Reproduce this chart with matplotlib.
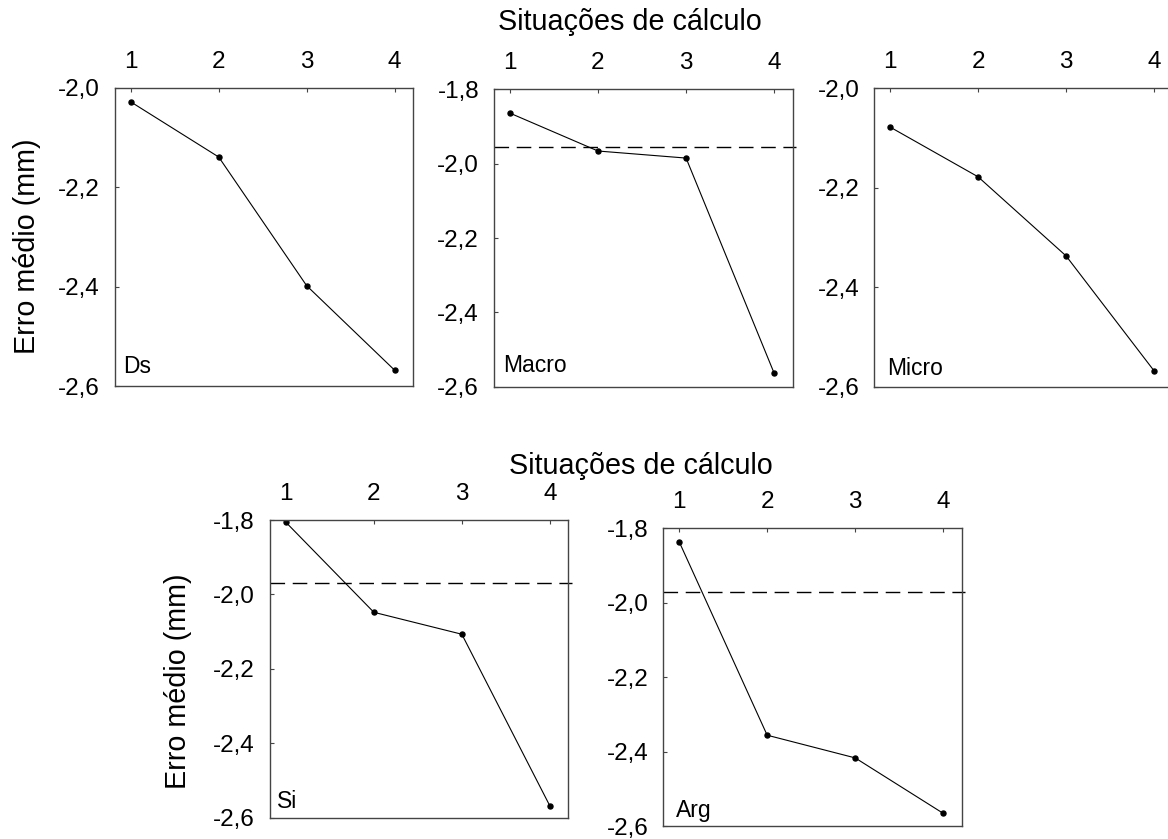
import numpy as np
import matplotlib
matplotlib.use("Agg")
import matplotlib.pyplot as plt
from matplotlib.ticker import FuncFormatter

plt.rcParams['font.family'] = ['Liberation Sans', 'DejaVu Sans']
plt.rcParams['axes.unicode_minus'] = False

# values
situacoes = [1, 2, 3, 4]
ds = [-2.028, -2.139, -2.398, -2.568]
macro = [-1.864, -1.966, -1.985, -2.564]
micro = [-2.078, -2.178, -2.337, -2.568]
si = [-1.806, -2.048, -2.107, -2.568]
arg = [-1.836, -2.356, -2.417, -2.566]

nomes = ["Ds", "Macro", "Micro", "Si", "Arg"]
series = [ds, macro, micro, si, arg]
referencia = [None, -1.954, None, -1.968, -1.971]
yticks_top = [-2.0, -2.2, -2.4, -2.6]
yticks_full = [-1.8, -2.0, -2.2, -2.4, -2.6]

W, H = 1168, 839
fig = plt.figure(figsize=(W / 100, H / 100), dpi=100)

# pixel boxes (left, top, right, bottom) and label offsets (px)
boxes = [(115, 88, 413, 386), (494, 89.3, 792.7, 386.7), (874.3, 88.3, 1172.5, 386.7),
         (270, 520, 568.3, 817.7), (663.3, 528.3, 961.7, 826)]
lab_off = [(7.7, 12.7), (8.7, 15), (12.4, 11.7), (6.7, 9.4), (13, 9.3)]

fmt = FuncFormatter(lambda v, p: f"{v:.1f}".replace('.', ','))

for i, (nome, vals) in enumerate(zip(nomes, series)):
    l, t, r, b = boxes[i]
    ax = fig.add_axes([l / W, 1 - b / H, (r - l) / W, (b - t) / H])
    ax.plot(situacoes, vals, color='black', lw=0.8, marker='o', ms=3.6)
    if referencia[i] is not None:
        ax.axhline(referencia[i], xmin=0, xmax=1.012, color='black', lw=1.0,
                   dashes=(10.5, 5.5), clip_on=False)
    ax.set_xlim(0.82, 4.21)
    yt = yticks_full if vals[0] > -1.95 else yticks_top
    ax.set_ylim(yt[-1], yt[0])
    ax.set_yticks(yt)
    ax.set_xticks(situacoes)
    ax.yaxis.set_major_formatter(fmt)
    ax.xaxis.tick_top()
    ax.tick_params(direction='in', length=3, width=0.8, pad=10.8,
                   labelsize=17.5, color='#444444')
    for sp in ax.spines.values():
        sp.set_color('#444444')
        sp.set_linewidth(1.0)
    ox, oy = lab_off[i]
    ax.text(ox / (r - l), oy / (b - t), nome, transform=ax.transAxes,
            fontsize=16.5, va='baseline', ha='left')

fig.text(630 / W, 1 - 30 / H, "Situações de cálculo", fontsize=20.7,
         ha='center', va='baseline')
fig.text(640.5 / W, 1 - 474.3 / H, "Situações de cálculo", fontsize=20.7,
         ha='center', va='baseline')
fig.text(27.5 / W, 1 - 245.8 / H, "Erro médio (mm)", fontsize=20.7,
         rotation=90, ha='center', va='center')
fig.text(177.5 / W, 1 - 681.7 / H, "Erro médio (mm)", fontsize=20.7,
         rotation=90, ha='center', va='center')

fig.savefig("out.png", dpi=100)
